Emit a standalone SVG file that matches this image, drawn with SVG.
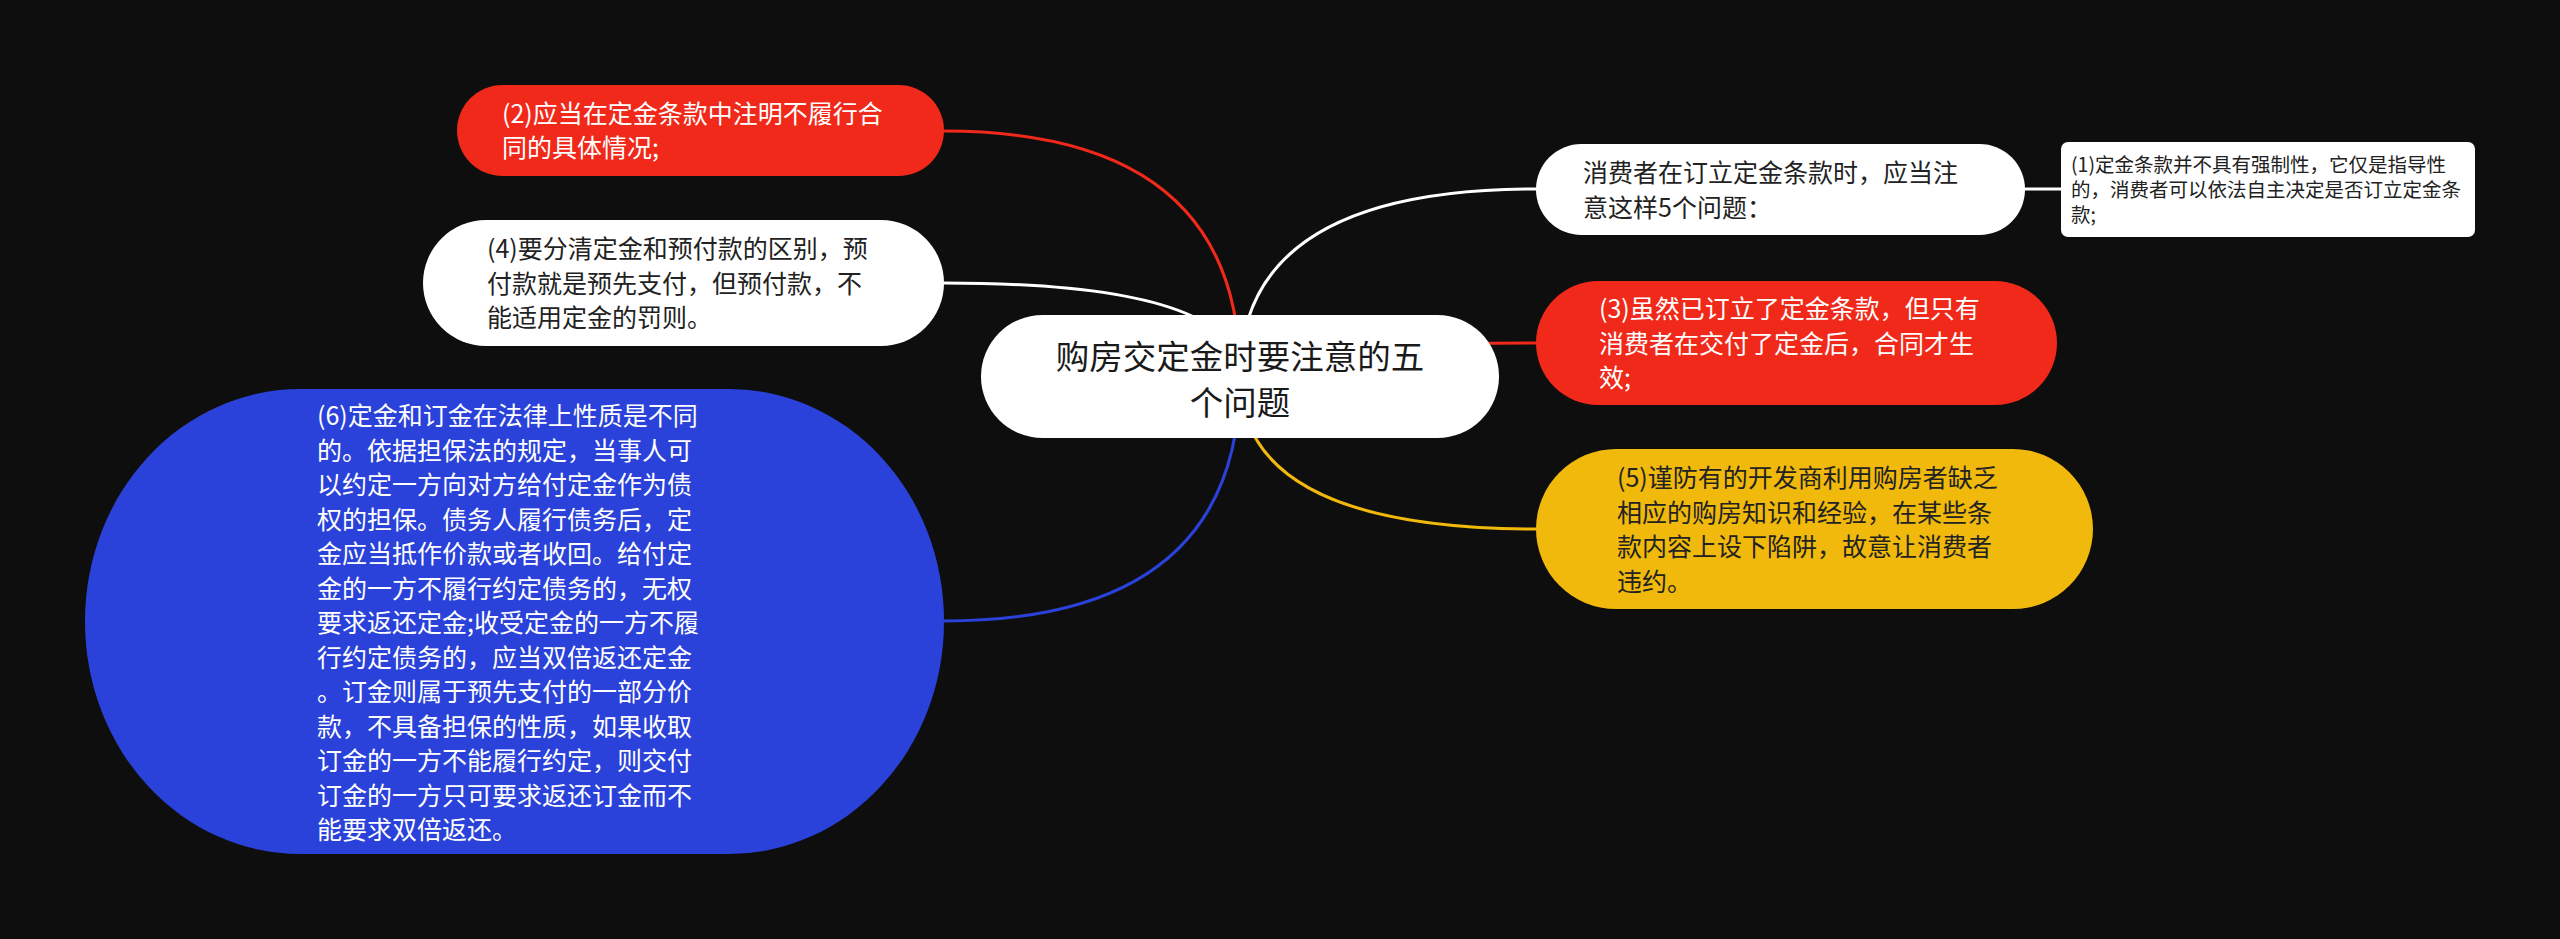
<svg xmlns="http://www.w3.org/2000/svg" width="2560" height="939" viewBox="0 0 2560 939">
<style>
.t{font-family:"Noto Sans CJK SC","Noto Sans",sans-serif;font-size:25px}
.w{fill:#ffffff}
.d{fill:#222222}
.c{fill:none;stroke-width:3;stroke-linecap:round}
</style>
<rect x="0" y="0" width="2560" height="939" fill="#0e0e0e"/>
<g id="connectors">
<path class="c" stroke="#f0291a" d="M944,131 Q1240,131 1240,376"/>
<path class="c" stroke="#ffffff" d="M944,283 Q1240,283 1240,376"/>
<path class="c" stroke="#2a42d9" d="M944,621 Q1240,621 1240,376"/>
<path class="c" stroke="#ffffff" d="M1536,189 Q1240,189 1240,376"/>
<path class="c" stroke="#f0291a" d="M1536,343 Q1240,343 1240,376"/>
<path class="c" stroke="#f0b90b" d="M1536,529 Q1240,529 1240,376"/>
<path class="c" stroke="#ffffff" d="M2025,189 L2062,189"/>
</g>
<g id="root">
<rect x="981" y="315" width="518" height="123" rx="61.5" fill="#ffffff"/>
<text font-family="Noto Sans CJK SC, sans-serif" font-size="33.5" fill="#1a1a1a" text-anchor="middle"><tspan x="1240" y="369">购房交定金时要注意的五</tspan><tspan x="1240" y="415">个问题</tspan></text>
</g>
<g id="n2">
<rect x="457" y="85" width="487" height="91" rx="45.5" fill="#f0291a"/>
<text class="t w"><tspan x="502" y="123">(2)应当在定金条款中注明不履行合</tspan><tspan x="502" y="157">同的具体情况;</tspan></text>
</g>
<g id="n4">
<rect x="423" y="220" width="521" height="126" rx="63" fill="#ffffff"/>
<text class="t d"><tspan x="487" y="258">(4)要分清定金和预付款的区别，预</tspan><tspan x="487" y="292.5">付款就是预先支付，但预付款，不</tspan><tspan x="487" y="327">能适用定金的罚则。</tspan></text>
</g>
<g id="n6">
<rect x="85" y="389" width="859" height="465" rx="215" ry="232" fill="#2a42d9"/>
<text class="t w"><tspan x="317" y="425">(6)定金和订金在法律上性质是不同</tspan><tspan x="317" y="459.5">的。依据担保法的规定，当事人可</tspan><tspan x="317" y="494">以约定一方向对方给付定金作为债</tspan><tspan x="317" y="528.5">权的担保。债务人履行债务后，定</tspan><tspan x="317" y="563">金应当抵作价款或者收回。给付定</tspan><tspan x="317" y="597.5">金的一方不履行约定债务的，无权</tspan><tspan x="317" y="632">要求返还定金;收受定金的一方不履</tspan><tspan x="317" y="666.5">行约定债务的，应当双倍返还定金</tspan><tspan x="317" y="701">。订金则属于预先支付的一部分价</tspan><tspan x="317" y="735.5">款，不具备担保的性质，如果收取</tspan><tspan x="317" y="770">订金的一方不能履行约定，则交付</tspan><tspan x="317" y="804.5">订金的一方只可要求返还订金而不</tspan><tspan x="317" y="839">能要求双倍返还。</tspan></text>
</g>
<g id="n0">
<rect x="1536" y="144" width="489" height="91" rx="45.5" fill="#ffffff"/>
<text class="t d"><tspan x="1583" y="182">消费者在订立定金条款时，应当注</tspan><tspan x="1583" y="216.5">意这样5个问题：</tspan></text>
</g>
<g id="n1">
<rect x="2061" y="142" width="414" height="95" rx="7" fill="#ffffff"/>
<text font-family="Noto Sans CJK SC, sans-serif" font-size="19.5" fill="#222222"><tspan x="2071" y="172">(1)定金条款并不具有强制性，它仅是指导性</tspan><tspan x="2071" y="197">的，消费者可以依法自主决定是否订立定金条</tspan><tspan x="2071" y="222">款;</tspan></text>
</g>
<g id="n3">
<rect x="1536" y="281" width="521" height="124" rx="62" fill="#f0291a"/>
<text class="t w"><tspan x="1599" y="318">(3)虽然已订立了定金条款，但只有</tspan><tspan x="1599" y="352.5">消费者在交付了定金后，合同才生</tspan><tspan x="1599" y="387">效;</tspan></text>
</g>
<g id="n5">
<rect x="1536" y="449" width="557" height="160" rx="80" fill="#f0b90b"/>
<text class="t d"><tspan x="1617" y="487">(5)谨防有的开发商利用购房者缺乏</tspan><tspan x="1617" y="521.5">相应的购房知识和经验，在某些条</tspan><tspan x="1617" y="556">款内容上设下陷阱，故意让消费者</tspan><tspan x="1617" y="590.5">违约。</tspan></text>
</g>
</svg>
